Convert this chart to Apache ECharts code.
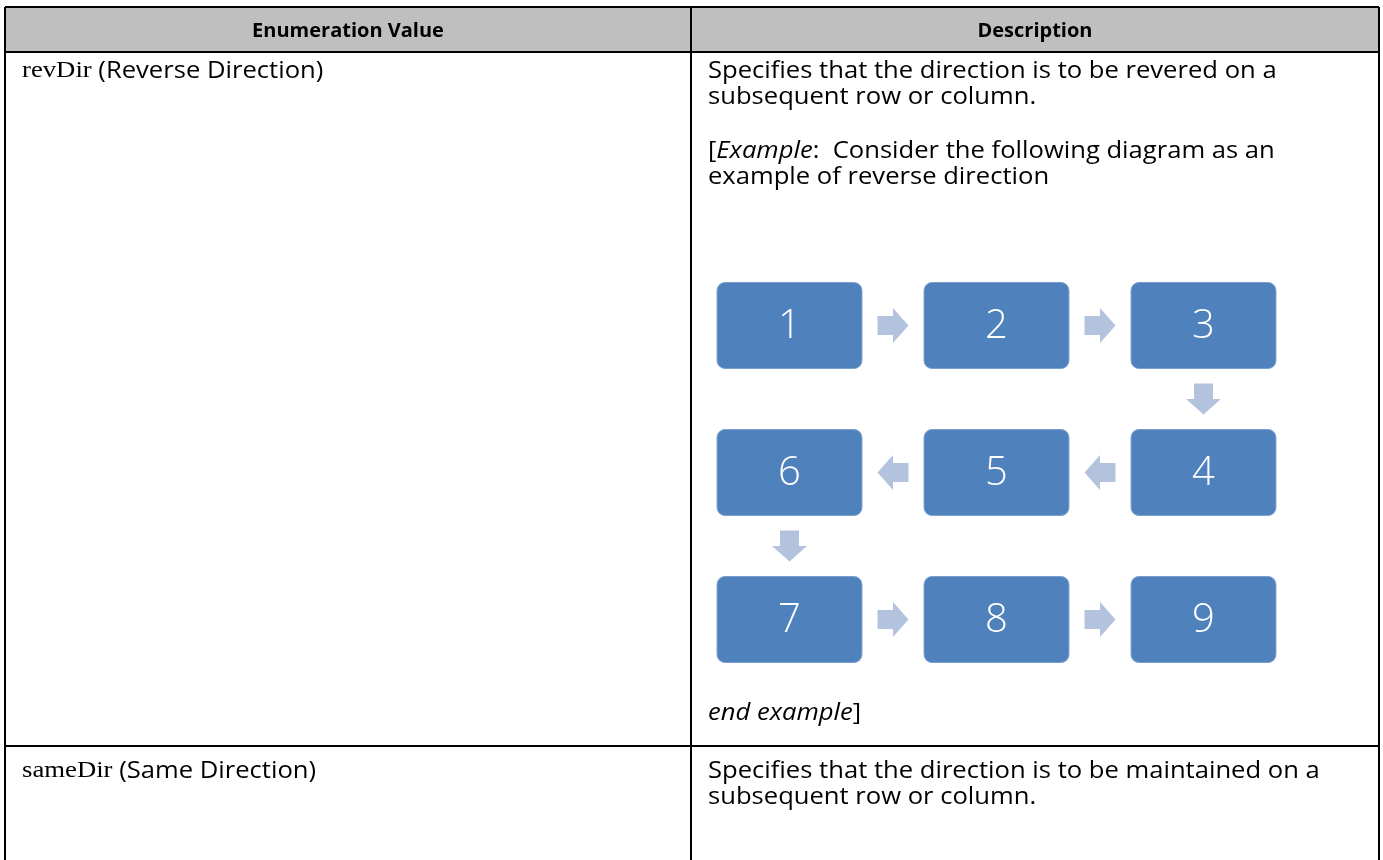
<!DOCTYPE html>
<html><head><meta charset="utf-8">
<script src="https://cdn.jsdelivr.net/npm/echarts@6/dist/echarts.min.js"></script>
<style>html,body{margin:0;padding:0;background:#fff}#c{width:1383px;height:860px}</style>
</head><body><div id="c"></div>
<script>
// ---- data ----
const headers = ['Enumeration Value', 'Description'];
const enumNames = ['revDir', 'sameDir'];
const enumLabels = ['(Reverse Direction)', '(Same Direction)'];
const descLines1 = ['Specifies that the direction is to be revered on a', 'subsequent row or column.'];
const exampleLines = [':  Consider the following diagram as an', 'example of reverse direction'];
const descLines2 = ['Specifies that the direction is to be maintained on a', 'subsequent row or column.'];
const boxLabels = ['1', '2', '3', '4', '5', '6', '7', '8', '9'];
const boxCols = [0, 1, 2, 2, 1, 0, 0, 1, 2];
const boxRows = [0, 0, 0, 1, 1, 1, 2, 2, 2];
const arrowCols = [0.5, 1.5, 2, 1.5, 0.5, 0, 0.5, 1.5];
const arrowRows = [0, 0, 0.5, 1, 1, 1.5, 2, 2];
const arrowDirs = ['right', 'right', 'down', 'left', 'left', 'down', 'right', 'right'];

// ---- styles ----
const SANS = 'Open Sans';
const SERIF = 'Liberation Serif';
const FS = 23;
const SX = 1.113;
const HFS = 20;
const BORDER = '#000';
const BOX = '#4f81bd';
const ARROW = '#b3c3de';

const chart = echarts.init(document.getElementById('c'), null, {renderer: 'canvas'});

const T = {left: 5, right: 1379, top: 7, headBottom: 52, rowDiv: 746, colDiv: 691, bottom: 862};

function line(x1, y1, x2, y2) {
  return {type: 'line', shape: {x1, y1, x2, y2}, style: {stroke: BORDER, lineWidth: 2}, z: 10};
}
const rich = {
  n: {fontFamily: SANS, fontSize: FS, fill: '#000'},
  i: {fontFamily: SANS, fontSize: FS, fontStyle: 'italic', fill: '#000'},
  s: {fontFamily: SERIF, fontSize: FS + 1, fill: '#000'},
  b: {fontFamily: SANS, fontSize: HFS, fontWeight: 'bold', fill: '#000'}
};
function txt(x, y, text) {
  return {type: 'text', x, y, scaleX: SX, style: {text, rich, align: 'left', verticalAlign: 'middle',
    fontFamily: SANS, fontSize: FS, fill: '#000'}, z: 5};
}
function head(x, y, text) {
  return {type: 'text', x, y, style: {text, rich, align: 'center', verticalAlign: 'middle',
    fontFamily: SANS, fontSize: HFS, fill: '#000'}, z: 5};
}

const graphics = [
  {type: 'rect', shape: {x: T.left, y: T.top, width: T.right - T.left, height: T.headBottom - T.top}, style: {fill: '#bfbfbf'}, z: 1},
  line(T.left, T.top, T.right, T.top),
  line(T.left, T.headBottom, T.right, T.headBottom),
  line(T.left, T.rowDiv, T.right, T.rowDiv),
  line(T.left, T.top, T.left, T.bottom),
  line(T.right, T.top, T.right, T.bottom),
  line(T.colDiv, T.top, T.colDiv, T.bottom),
  head((T.left + T.colDiv) / 2, 31, '{b|' + headers[0] + '}'),
  head((T.colDiv + T.right) / 2, 31, '{b|' + headers[1] + '}'),
  txt(22, 71, '{s|' + enumNames[0] + '}{n| ' + enumLabels[0] + '}'),
  txt(22, 771, '{s|' + enumNames[1] + '}{n| ' + enumLabels[1] + '}'),
  txt(708, 71, '{n|' + descLines1[0] + '}'),
  txt(708, 97, '{n|' + descLines1[1] + '}'),
  txt(708, 151, '{n|[}{i|Example}{n|' + exampleLines[0] + '}'),
  txt(708, 177, '{n|' + exampleLines[1] + '}'),
  txt(708, 713, '{i|end example}{n|]}'),
  txt(708, 771, '{n|' + descLines2[0] + '}'),
  txt(708, 797, '{n|' + descLines2[1] + '}')
];

const boxData = boxLabels.map((l, i) => [boxCols[i], boxRows[i]]);
const arrowData = arrowDirs.map((d, i) => [arrowCols[i], arrowRows[i]]);

function arrowPoints(cx, cy, dir) {
  const L = 31, H = 35, S = 19, SL = 15.5;
  const pts = [[-L / 2, -S / 2], [-L / 2 + SL, -S / 2], [-L / 2 + SL, -H / 2], [L / 2, 0],
               [-L / 2 + SL, H / 2], [-L / 2 + SL, S / 2], [-L / 2, S / 2]];
  return pts.map(([x, y]) => {
    if (dir === 'left') return [cx - x, cy + y];
    if (dir === 'down') return [cx - y, cy + x];
    return [cx + x, cy + y];
  });
}

chart.setOption({
  animation: false,
  grid: {left: 686, top: 252, width: 621, height: 441, show: false},
  xAxis: {type: 'value', min: -0.5, max: 2.5, show: false},
  yAxis: {type: 'value', min: -0.5, max: 2.5, inverse: true, show: false},
  graphic: graphics,
  series: [
    {
      type: 'custom', data: boxData, silent: true,
      renderItem(params, api) {
        const c = api.coord([api.value(0), api.value(1)]);
        const s = api.size([1, 1]);
        const w = s[0] * 0.7, h = s[1] * 0.585;
        return {type: 'group', children: [
          {type: 'rect', shape: {x: c[0] - w / 2, y: c[1] - h / 2, width: w, height: h, r: 8},
            style: {fill: BOX, stroke: '#7a9fcf', lineWidth: 1}},
          {type: 'text', x: c[0], y: c[1] + 1, style: {text: boxLabels[params.dataIndex], fill: '#fff',
            fontFamily: SANS, fontWeight: 300, fontSize: 40, align: 'center', verticalAlign: 'middle'}}
        ]};
      }
    },
    {
      type: 'custom', data: arrowData, silent: true,
      renderItem(params, api) {
        const c = api.coord([api.value(0), api.value(1)]);
        return {type: 'polygon', shape: {points: arrowPoints(c[0], c[1], arrowDirs[params.dataIndex])},
          style: {fill: ARROW}};
      }
    }
  ]
});
</script></body></html>
